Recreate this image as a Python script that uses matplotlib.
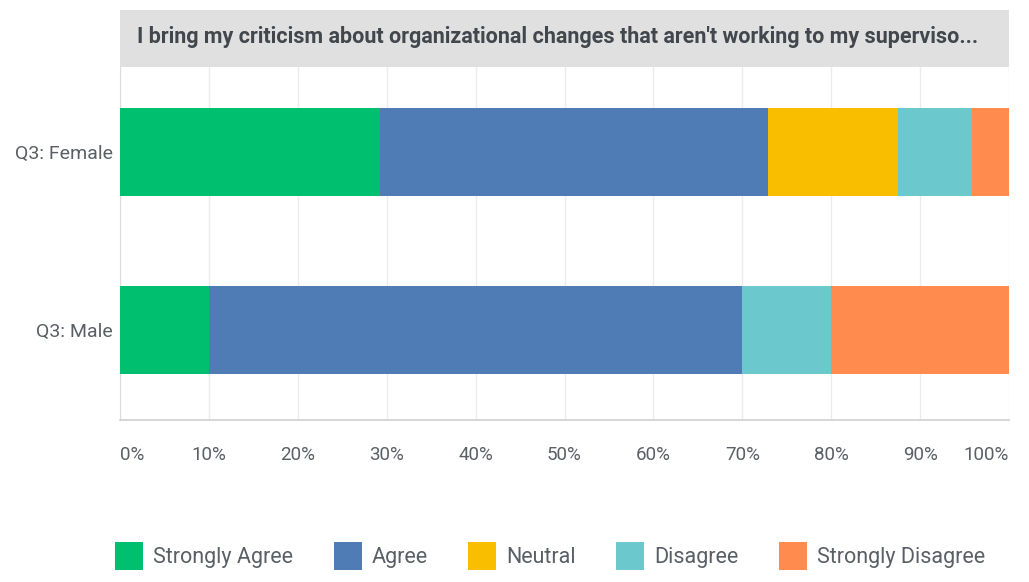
import numpy as np
import matplotlib.pyplot as plt
from matplotlib.patches import Patch, Rectangle

groups = ["Q3: Male", "Q3: Female"]
responses = ["Strongly Agree", "Agree", "Neutral", "Disagree", "Strongly Disagree"]
colors = ["#00bf6f", "#507cb6", "#f9be00", "#6bc8cd", "#ff8b4f"]

# percent of respondents per group, order matches responses
male = [10.0, 60.0, 0.0, 10.0, 20.0]
female = [29.2, 43.7, 14.6, 8.3, 4.2]

title = "I bring my criticism about organizational changes that aren't working to my superviso..."

plt.rcParams['font.family'] = ['Roboto', 'DejaVu Sans']
text_color = "#5a5f66"

fig = plt.figure(figsize=(10.29, 5.82), dpi=100)
W, H = 1029, 582
ax = fig.add_axes([120 / W, 1 - 420 / H, (1009 - 120) / W, (420 - 67) / H])

data = np.array([male, female])
ypos = np.arange(len(groups))
left = np.zeros(len(groups))
for i, name in enumerate(responses):
    ax.barh(ypos, data[:, i], left=left, height=0.495, color=colors[i],
            label=name, zorder=3, linewidth=0)
    left += data[:, i]

ax.set_xlim(0, 100)
ax.set_ylim(-0.506, 1.478)
ticks = np.arange(0, 101, 10)
ax.set_xticks(ticks)
ax.set_xticklabels([f"{t}%" for t in ticks])
labels = ax.get_xticklabels()
labels[0].set_ha("left")
labels[-1].set_ha("right")
ax.set_yticks(ypos)
ax.set_yticklabels(groups)
ax.tick_params(axis='both', length=0, colors=text_color)
ax.tick_params(axis='x', pad=19, labelsize=13.5)
ax.tick_params(axis='y', pad=5, labelsize=14)
ax.grid(axis='x', color="#ececec", linewidth=1, zorder=0)
for s in ["top", "right"]:
    ax.spines[s].set_visible(False)
ax.spines["left"].set_color("#dcdcdc")
ax.spines["bottom"].set_color("#cfcfcf")
ax.spines["bottom"].set_linewidth(1.2)

# grey header band with the question
fig.patches.append(Rectangle((120 / W, 1 - 67 / H), (1009 - 120) / W, 57 / H,
                             transform=fig.transFigure, facecolor="#e0e0e0",
                             edgecolor="none", zorder=0))
fig.text(137 / W, 1 - 37 / H, title, fontsize=15.5, fontweight="semibold",
         color="#42474d", va="center", ha="left")

handles = [Patch(facecolor=c, edgecolor="none", label=r) for c, r in zip(colors, responses)]
fig.legend(handles=handles, loc="center", bbox_to_anchor=(550 / W, 1 - 556 / H),
           ncol=5, frameon=False, fontsize=15.5, handlelength=1.3, handleheight=1.65,
           handletextpad=0.45, columnspacing=1.9, labelcolor=text_color)

fig.savefig("out.png", dpi=100)
